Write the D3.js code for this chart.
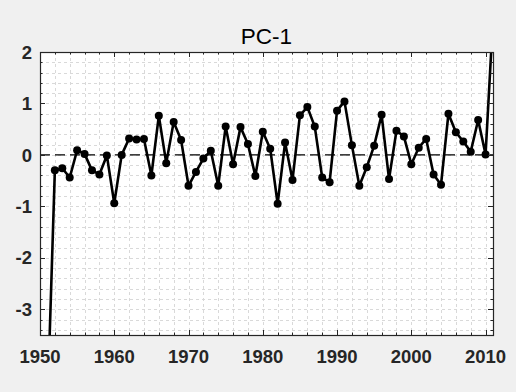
<!DOCTYPE html>
<html><head><meta charset="utf-8">
<script src="https://cdn.jsdelivr.net/npm/d3@7"></script>
<style>
html,body{margin:0;padding:0;background:#f0f0f0;}
svg{display:block;}
</style></head>
<body>
<script>
const years = [1951,1952,1953,1954,1955,1956,1957,1958,1959,1960,
  1961,1962,1963,1964,1965,1966,1967,1968,1969,1970,
  1971,1972,1973,1974,1975,1976,1977,1978,1979,1980,
  1981,1982,1983,1984,1985,1986,1987,1988,1989,1990,
  1991,1992,1993,1994,1995,1996,1997,1998,1999,2000,
  2001,2002,2003,2004,2005,2006,2007,2008,2009,2010,2011];
const values = [-4.9,-0.30,-0.26,-0.44,0.09,0.02,-0.30,-0.38,-0.01,-0.94,
  0.00,0.32,0.30,0.31,-0.40,0.76,-0.16,0.64,0.29,-0.60,
  -0.33,-0.07,0.08,-0.60,0.55,-0.18,0.54,0.21,-0.41,0.45,
  0.12,-0.95,0.24,-0.49,0.77,0.93,0.55,-0.44,-0.53,0.86,
  1.04,0.19,-0.60,-0.24,0.18,0.78,-0.47,0.47,0.36,-0.18,
  0.14,0.31,-0.38,-0.58,0.80,0.44,0.26,0.06,0.68,0.01,2.65];
const xTickLabels = [1950,1960,1970,1980,1990,2000,2010];
const yTickLabels = [-3,-2,-1,0,1,2];
const xDomain = [1950, 2011];
const yDomain = [-3.5, 2];
const title = "PC-1";

const W = 516, H = 392;
const L = 40, R = 493, T = 52, B = 335;
const svg = d3.select("body").append("svg").attr("width", W).attr("height", H);
svg.append("rect").attr("width", W).attr("height", H).attr("fill", "#f0f0f0");

const x = d3.scaleLinear().domain(xDomain).range([L, R]);
const y = d3.scaleLinear().domain(yDomain).range([B, T]);

svg.append("rect").attr("x", L).attr("y", T).attr("width", R - L).attr("height", B - T).attr("fill", "#fff");

// minor grid
const xMinor = d3.range(1952, 2011, 2);
const yMinor = d3.range(-34, 21, 2).map(v => v / 10);
const grid = svg.append("g").attr("stroke", "#d9d9d9").attr("stroke-width", 1).attr("stroke-dasharray", "3,3");
grid.selectAll(".gx").data(xMinor).join("line")
  .attr("x1", d => Math.round(x(d)) + 0.5).attr("x2", d => Math.round(x(d)) + 0.5)
  .attr("y1", T).attr("y2", B);
grid.selectAll(".gy").data(yMinor).join("line")
  .attr("y1", d => Math.round(y(d)) + 0.5).attr("y2", d => Math.round(y(d)) + 0.5)
  .attr("x1", L).attr("x2", R);

// clip
svg.append("clipPath").attr("id", "clip").append("rect")
  .attr("x", L).attr("y", T).attr("width", R - L).attr("height", B - T);

// zero line
svg.append("line").attr("x1", x(xDomain[0])).attr("x2", x(xDomain[1]))
  .attr("y1", y(0)).attr("y2", y(0))
  .attr("stroke", "#000").attr("stroke-width", 1.3).attr("stroke-dasharray", "10,5");

const data = years.map((yr, i) => ({yr, v: values[i]}));
const plot = svg.append("g").attr("clip-path", "url(#clip)");
plot.append("path").datum(data)
  .attr("d", d3.line().x(d => x(d.yr)).y(d => y(d.v)))
  .attr("fill", "none").attr("stroke", "#000").attr("stroke-width", 2.6).attr("stroke-linejoin", "round");
plot.selectAll("circle").data(data).join("circle")
  .attr("cx", d => x(d.yr)).attr("cy", d => y(d.v)).attr("r", 4).attr("fill", "#000");

// axes box with inward ticks
const axCol = "#262626";
const ticksG = svg.append("g").attr("stroke", axCol).attr("stroke-width", 1);
const xMajor = xTickLabels;
const yMajor = yTickLabels;
const majLen = 5, minLen = 2.5;
const xAllTicks = xMinor.map(d => ({d, len: xMajor.includes(d) ? majLen : minLen}))
  .concat(xMajor.filter(d => !xMinor.includes(d)).map(d => ({d, len: majLen})));
xAllTicks.forEach(t => {
  const px = Math.round(x(t.d)) + 0.5;
  ticksG.append("line").attr("x1", px).attr("x2", px).attr("y1", B).attr("y2", B - t.len);
  ticksG.append("line").attr("x1", px).attr("x2", px).attr("y1", T).attr("y2", T + t.len);
});
const yAllTicks = yMinor.map(d => ({d, len: yMajor.some(m => Math.abs(m - d) < 1e-9) ? majLen : minLen}));
yAllTicks.forEach(t => {
  const py = Math.round(y(t.d)) + 0.5;
  ticksG.append("line").attr("y1", py).attr("y2", py).attr("x1", L).attr("x2", L + t.len);
  ticksG.append("line").attr("y1", py).attr("y2", py).attr("x1", R).attr("x2", R - t.len);
});
svg.append("rect").attr("x", L + 0.5).attr("y", T + 0.5).attr("width", R - L).attr("height", B - T)
  .attr("fill", "none").attr("stroke", axCol).attr("stroke-width", 1.2);

// tick labels
const font = "'Liberation Sans', Arial, Helvetica, sans-serif";
svg.append("g").selectAll("text").data(xTickLabels).join("text")
  .attr("x", d => x(d)).attr("y", 363)
  .attr("text-anchor", "middle").attr("font-family", font).attr("font-size", 18.5)
  .attr("font-weight", "bold").attr("fill", axCol).text(d => d);
svg.append("g").selectAll("text").data(yTickLabels).join("text")
  .attr("x", 32).attr("y", d => y(d)).attr("dy", "0.36em")
  .attr("text-anchor", "end").attr("font-family", font).attr("font-size", 18.5)
  .attr("font-weight", "bold").attr("fill", axCol).text(d => d);

svg.append("text").attr("x", (L + R) / 2).attr("y", 43.5).attr("text-anchor", "middle")
  .attr("font-family", font).attr("font-size", 22.5).attr("fill", "#000").text(title);
</script>
</body></html>
